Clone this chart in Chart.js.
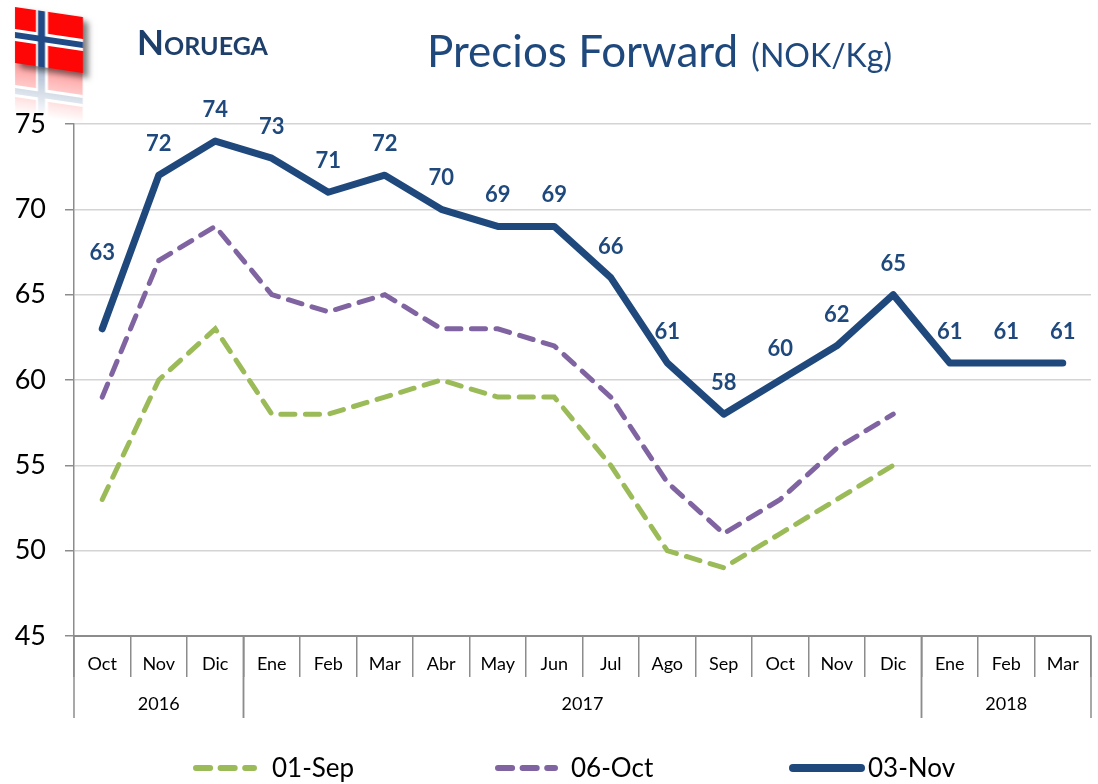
<!DOCTYPE html>
<html>
<head>
<meta charset="utf-8">
<title>Precios Forward</title>
<script src="https://cdn.jsdelivr.net/npm/chart.js@4/dist/chart.umd.min.js"></script>
<style>
  html, body { margin: 0; background: #fff; }
  #wrap { position: relative; width: 1098px; height: 784px; overflow: hidden; font-family: Lato, sans-serif; }
  canvas { position: absolute; left: 0; top: 0; display: block; }
  .country { position: absolute; left: 137px; top: 21px; font-size: 35px; font-weight: 700; color: #1F3F6B; font-variant: small-caps; line-height: 40px; }
  .title { position: absolute; left: 427px; top: 22px; font-size: 44px; color: #1F497D; line-height: 56px; white-space: nowrap; }
  .title small { font-size: 32px; margin-left: 2px; }
  /* flag with its reflection */
  .flagbox { position: absolute; left: 15px; top: 7px; width: 68px; height: 56px; transform-origin: 0 0; transform: skewY(8.4deg); }
  .flag { position: absolute; left: 0; top: 0; width: 68px; height: 56px;
    background:
      linear-gradient(#1F4A86, #1F4A86) 0 25px / 68px 6px no-repeat,
      linear-gradient(#1F4A86, #1F4A86) 23px 0 / 7px 56px no-repeat,
      linear-gradient(#fff, #fff) 0 22px / 68px 12px no-repeat,
      linear-gradient(#fff, #fff) 21px 0 / 12px 56px no-repeat,
      #FF0606; }
  .flag.main { box-shadow: 5px 4px 6px rgba(0,0,0,.5); }
  .flag.mirror { top: 56px; transform: scaleY(-1); opacity: .95;
    -webkit-mask-image: linear-gradient(to top, rgba(0,0,0,.4), rgba(0,0,0,0) 90%);
    mask-image: linear-gradient(to top, rgba(0,0,0,.4), rgba(0,0,0,0) 90%); }
</style>
</head>
<body>
<div id="wrap">
  <canvas id="chart" width="1098" height="784"></canvas>
  <div class="flagbox"><div class="flag mirror"></div><div class="flag main"></div></div>
  <div class="country">Noruega</div>
  <div class="title">Precios Forward <small>(NOK/Kg)</small></div>
</div>
<script>
const months = ['Oct', 'Nov', 'Dic', 'Ene', 'Feb', 'Mar', 'Abr', 'May', 'Jun', 'Jul', 'Ago', 'Sep', 'Oct', 'Nov', 'Dic', 'Ene', 'Feb', 'Mar'];
const years = ['2016', '2017', '2018'];
const yearLengths = [3, 12, 3];
const sep01 = [53, 60, 63, 58, 58, 59, 60, 59, 59, 55, 50, 49, 51, 53, 55, null, null, null];
const oct06 = [59, 67, 69, 65, 64, 65, 63, 63, 62, 59, 54, 51, 53, 56, 58, null, null, null];
const nov03 = [63, 72, 74, 73, 71, 72, 70, 69, 69, 66, 61, 58, 60, 62, 65, 61, 61, 61];

const AXIS_GREY = '#8C8C8C';
const NAVY = '#1F497D';

// value labels over the 03-Nov line
const valueLabels = {
  id: 'valueLabels',
  afterDatasetsDraw(chart) {
    const ctx = chart.ctx;
    const meta = chart.getDatasetMeta(2);
    ctx.save();
    ctx.font = 'bold 22px Lato';
    ctx.fillStyle = NAVY;
    ctx.textAlign = 'center';
    ctx.textBaseline = 'middle';
    meta.data.forEach((pt, i) => {
      // the first one sits much higher in the original
      const lift = i === 0 ? 76 : 31;
      ctx.fillText(nov03[i], pt.x, pt.y - lift);
    });
    ctx.restore();
  }
};

// second level of the category axis (years)
const yearAxis = {
  id: 'yearAxis',
  afterDraw(chart) {
    const ctx = chart.ctx;
    const x = chart.scales.x;
    const step = x.width / months.length;
    ctx.save();
    ctx.strokeStyle = AXIS_GREY;
    ctx.lineWidth = 1.5;
    ctx.fillStyle = '#000';
    ctx.font = '18px Lato';
    ctx.textAlign = 'center';
    ctx.textBaseline = 'middle';
    let start = 0;
    years.forEach((year, i) => {
      const end = start + yearLengths[i];
      const left = x.getPixelForValue(start) - step / 2;
      const right = x.getPixelForValue(end - 1) + step / 2;
      [left, right].forEach(px => {
        ctx.beginPath();
        ctx.moveTo(px, chart.chartArea.bottom);
        ctx.lineTo(px, 718);
        ctx.stroke();
      });
      ctx.fillText(year, (left + right) / 2, 704);
      start = end;
    });
    ctx.restore();
  }
};

const legendSpots = [
  { sample: [196, 254], text: 272 },
  { sample: [498, 555], text: 571 },
  { sample: [793, 861], text: 868 }
];

const bottomLegend = {
  id: 'bottomLegend',
  afterDraw(chart) {
    const ctx = chart.ctx;
    chart.data.datasets.forEach((ds, i) => {
      const spot = legendSpots[i];
      ctx.save();
      ctx.strokeStyle = ds.borderColor;
      ctx.lineWidth = ds.borderWidth + 1;
      ctx.lineCap = 'round';
      ctx.setLineDash(ds.borderDash || []);
      ctx.beginPath();
      ctx.moveTo(spot.sample[0], 768);
      ctx.lineTo(spot.sample[1], 768);
      ctx.stroke();
      ctx.setLineDash([]);
      ctx.fillStyle = '#000';
      ctx.font = '26px Lato';
      ctx.textBaseline = 'middle';
      ctx.fillText(ds.label, spot.text, 769);
      ctx.restore();
    });
  }
};

new Chart(document.getElementById('chart'), {
  type: 'line',
  data: {
    labels: months,
    datasets: [
      { label: '01-Sep', data: sep01, borderColor: '#9BBB59', borderWidth: 5, borderDash: [14.1, 10.5], borderCapStyle: 'round' },
      { label: '06-Oct', data: oct06, borderColor: '#8064A2', borderWidth: 5, borderDash: [14.1, 10.5], borderCapStyle: 'round' },
      { label: '03-Nov', data: nov03, borderColor: NAVY, borderWidth: 7, borderCapStyle: 'round', borderJoinStyle: 'round' }
    ]
  },
  options: {
    responsive: false,
    animation: false,
    layout: { padding: { top: 124, right: 7, left: 0, bottom: 0 } },
    elements: { point: { radius: 0 }, line: { tension: 0 } },
    plugins: { legend: { display: false }, title: { display: false }, tooltip: { enabled: false } },
    scales: {
      x: {
        offset: true,
        afterFit(scale) { scale.height = 148; },
        border: { color: AXIS_GREY, width: 2 },
        grid: { offset: true, drawOnChartArea: false, color: AXIS_GREY, tickColor: AXIS_GREY, tickLength: 41, lineWidth: 1.5 },
        ticks: { color: '#000', font: { family: 'Lato', size: 18 }, padding: -24, maxRotation: 0, autoSkip: false }
      },
      y: {
        min: 45,
        max: 75,
        afterFit(scale) { scale.width = 74; },
        border: { color: AXIS_GREY, width: 1.5 },
        grid: { color: '#D4D4D4', lineWidth: 1.5, tickColor: AXIS_GREY, tickLength: 9 },
        ticks: { stepSize: 5, color: '#000', font: { family: 'Lato', size: 27 }, padding: 19 }
      }
    }
  },
  plugins: [valueLabels, yearAxis, bottomLegend]
});
</script>
</body>
</html>
